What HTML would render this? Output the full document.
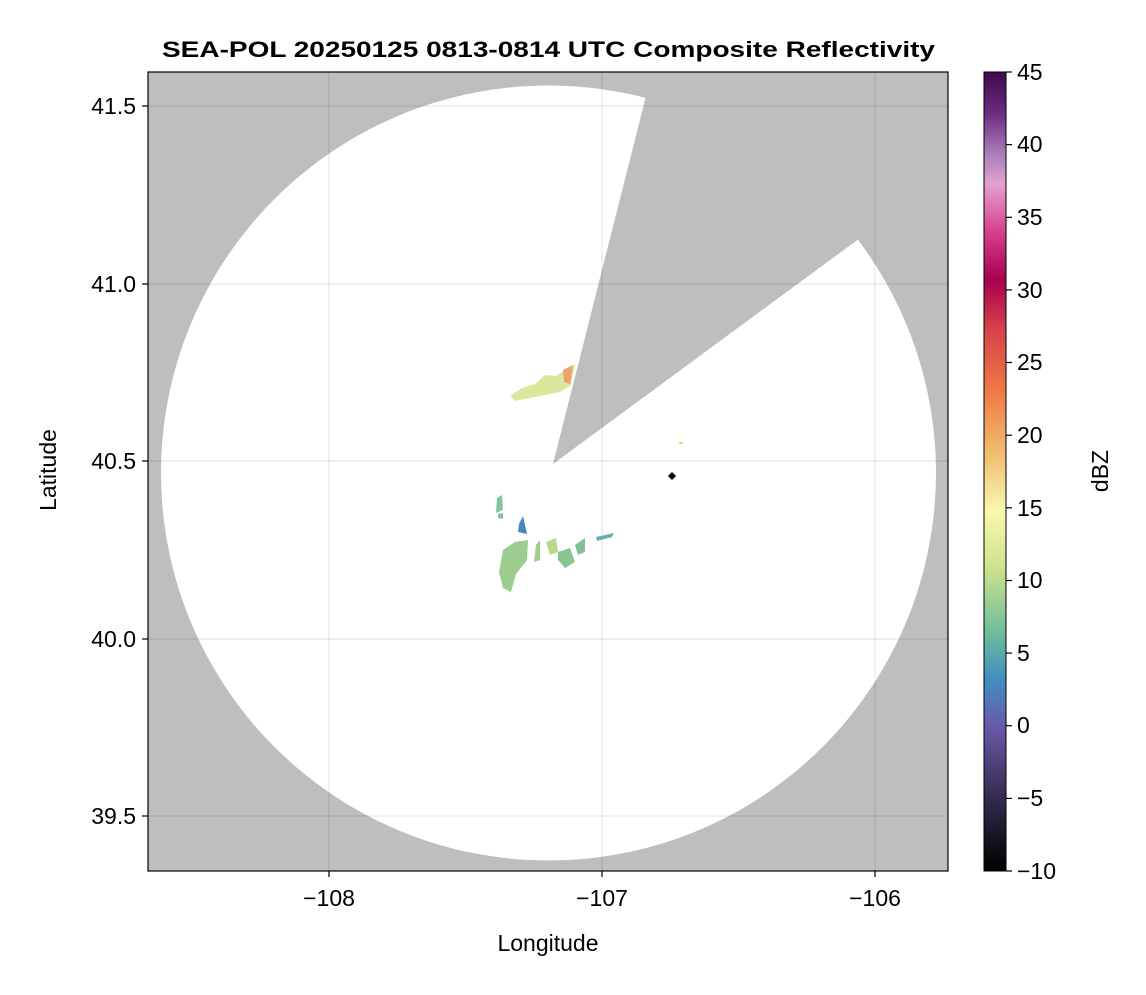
<!DOCTYPE html>
<html><head><meta charset="utf-8"><style>
body{margin:0;background:#fff;width:1146px;height:990px;overflow:hidden;font-family:"Liberation Sans",Arial,sans-serif}
</style></head><body>
<svg width="1146" height="990" xmlns="http://www.w3.org/2000/svg" font-family="Liberation Sans, Arial, sans-serif">
<defs>
<clipPath id="pa"><rect x="148" y="72" width="800" height="799"/></clipPath>
<linearGradient id="cb" x1="0" y1="0" x2="0" y2="1">
<stop offset="0" stop-color="#3f0a4a"/>
<stop offset="0.05" stop-color="#6a2a7e"/>
<stop offset="0.1" stop-color="#a77ab8"/>
<stop offset="0.14" stop-color="#e3a2d0"/>
<stop offset="0.2" stop-color="#d8408a"/>
<stop offset="0.26" stop-color="#a8004e"/>
<stop offset="0.32" stop-color="#d6404a"/>
<stop offset="0.4" stop-color="#ef7a45"/>
<stop offset="0.48" stop-color="#f0c070"/>
<stop offset="0.55" stop-color="#f9f8b0"/>
<stop offset="0.62" stop-color="#cfe28e"/>
<stop offset="0.7" stop-color="#70be98"/>
<stop offset="0.76" stop-color="#3f90c0"/>
<stop offset="0.82" stop-color="#6a58a8"/>
<stop offset="0.9" stop-color="#3a2f58"/>
<stop offset="0.96" stop-color="#151420"/>
<stop offset="1" stop-color="#000"/>
</linearGradient>
</defs>
<text x="162" y="57" font-size="22" font-weight="bold" textLength="773" lengthAdjust="spacingAndGlyphs">SEA-POL 20250125 0813-0814 UTC Composite Reflectivity</text>
<g clip-path="url(#pa)">
<rect x="148" y="72" width="800" height="799" fill="#bebebe"/>
<circle cx="548.5" cy="473" r="387.5" fill="#fff"/>
<polygon points="553,464 646,96 651,72 948,72 948,174 860,238" fill="#bebebe"/>
<g stroke="#000" stroke-opacity="0.12" stroke-width="1">
<line x1="329" y1="72" x2="329" y2="871"/><line x1="602" y1="72" x2="602" y2="871"/><line x1="875" y1="72" x2="875" y2="871"/>
<line x1="148" y1="106" x2="948" y2="106"/><line x1="148" y1="284" x2="948" y2="284"/><line x1="148" y1="461" x2="948" y2="461"/><line x1="148" y1="639" x2="948" y2="639"/><line x1="148" y1="816" x2="948" y2="816"/>
</g>
<path d="M510,396 L522,388 L535,384 L545,375 L556,376 L568,368 L575,364 L571,385 L560,392 L545,395 L530,398 L515,401 Z" fill="#dde79c"/>
<path d="M563,370 L573,365 L570,384 L564,382 Z" fill="#eea070"/>
<path d="M497,498 L502,495 L503,510 L496,513 Z" fill="#86c49a"/>
<path d="M498,514 L503,513 L503,519 L498,518 Z" fill="#86c49a"/>
<path d="M519,524 L523,516 L527,534 L518,532 Z" fill="#4a86c0"/>
<path d="M503,550 L515,542 L528,540 L527,560 L516,574 L511,592 L503,588 L499,572 Z" fill="#9ccc8e"/>
<path d="M536,545 L540,540 L540,560 L534,562 Z" fill="#a0cc8e"/>
<path d="M546,542 L556,538 L558,552 L550,555 Z" fill="#b8d88a"/>
<path d="M558,552 L570,548 L575,562 L565,568 L558,560 Z" fill="#8cc492"/>
<path d="M575,545 L585,538 L585,552 L578,555 Z" fill="#82c096"/>
<path d="M596,537 L614,533 L612,537 L597,541 Z" fill="#6aaeb0"/>
<polygon points="672,472 676,476 672,480 668,476" fill="#000"/>
<rect x="679" y="442" width="4" height="2" fill="#e8d070"/>
</g>
<rect x="148" y="72" width="800" height="799" fill="none" stroke="#000" stroke-width="1.2"/>
<g stroke="#000" stroke-width="1.2">
<line x1="329" y1="871" x2="329" y2="877"/><line x1="602" y1="871" x2="602" y2="877"/><line x1="875" y1="871" x2="875" y2="877"/>
<line x1="142" y1="106" x2="148" y2="106"/><line x1="142" y1="284" x2="148" y2="284"/><line x1="142" y1="461" x2="148" y2="461"/><line x1="142" y1="639" x2="148" y2="639"/><line x1="142" y1="816" x2="148" y2="816"/>
</g>
<g font-size="23" text-anchor="middle">
<text x="329" y="906">−108</text><text x="602" y="906">−107</text><text x="875" y="906">−106</text>
<text x="548" y="951">Longitude</text>
</g>
<g font-size="23" text-anchor="end">
<text x="136" y="114">41.5</text><text x="136" y="292">41.0</text><text x="136" y="469">40.5</text><text x="136" y="647">40.0</text><text x="136" y="824">39.5</text>
</g>
<text transform="translate(56,470) rotate(-90)" font-size="23" text-anchor="middle">Latitude</text>
<rect x="984" y="72" width="22" height="799" fill="url(#cb)" stroke="#000" stroke-width="1"/>
<g stroke="#000" stroke-width="1.2">
<line x1="1006" y1="72" x2="1012" y2="72"/><line x1="1006" y1="144.6" x2="1012" y2="144.6"/><line x1="1006" y1="217.3" x2="1012" y2="217.3"/><line x1="1006" y1="289.9" x2="1012" y2="289.9"/><line x1="1006" y1="362.5" x2="1012" y2="362.5"/><line x1="1006" y1="435.2" x2="1012" y2="435.2"/><line x1="1006" y1="507.8" x2="1012" y2="507.8"/><line x1="1006" y1="580.5" x2="1012" y2="580.5"/><line x1="1006" y1="653.1" x2="1012" y2="653.1"/><line x1="1006" y1="725.7" x2="1012" y2="725.7"/><line x1="1006" y1="798.4" x2="1012" y2="798.4"/><line x1="1006" y1="871" x2="1012" y2="871"/>
</g>
<g font-size="23">
<text x="1017" y="80">45</text><text x="1017" y="152">40</text><text x="1017" y="225">35</text><text x="1017" y="298">30</text><text x="1017" y="370">25</text><text x="1017" y="443">20</text><text x="1017" y="516">15</text><text x="1017" y="588">10</text><text x="1017" y="661">5</text><text x="1017" y="733">0</text><text x="1017" y="806">−5</text><text x="1017" y="879">−10</text>
</g>
<text transform="translate(1108,471) rotate(-90)" font-size="23" text-anchor="middle">dBZ</text>
</svg>
</body></html>
